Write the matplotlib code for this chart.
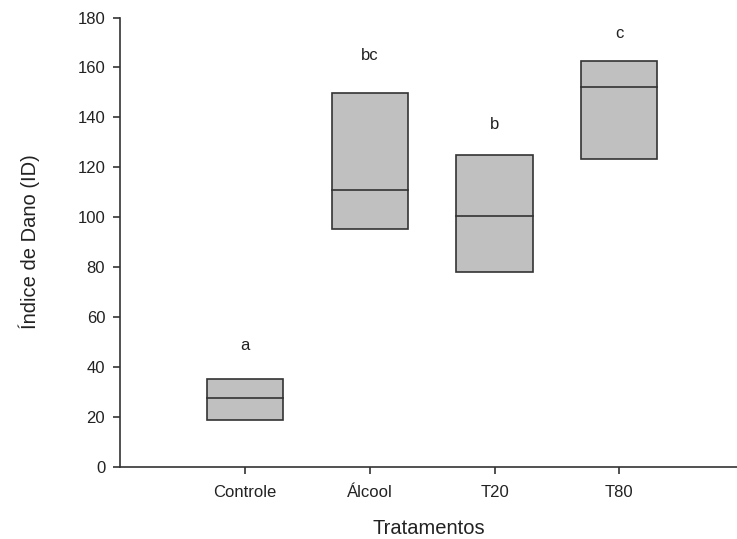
import matplotlib
matplotlib.use("Agg")
import matplotlib.pyplot as plt
import numpy as np

# values
tratamentos = ["Controle", "Álcool", "T20", "T80"]
q1 = [18.9, 95.1, 78.0, 123.2]
mediana = [27.6, 110.9, 100.4, 152.0]
q3 = [35.2, 149.9, 124.8, 162.7]
letras = ["a", "bc", "b", "c"]
letra_y = [48.7, 164.6, 137.0, 173.4]

plt.rcParams['font.family'] = ['Liberation Sans', 'DejaVu Sans']
cor_linha = "#333333"

fig = plt.figure(figsize=(7.37, 5.39), dpi=100)
ax = fig.add_axes([0.1635, 0.1341, 1.0 - 0.1635, 0.9675 - 0.1341])

pos = np.arange(1, len(tratamentos) + 1)
largura = 0.61
for x, lo, med, hi, let, ly in zip(pos, q1, mediana, q3, letras, letra_y):
    ax.add_patch(plt.Rectangle((x - largura / 2, lo), largura, hi - lo,
                               facecolor="#c0c0c0", edgecolor=cor_linha, lw=1.2))
    ax.plot([x - largura / 2, x + largura / 2], [med, med], color=cor_linha, lw=1.2)
    ax.text(x, ly, let, ha="center", va="center", fontsize=12, color="#222222")

ax.set_xlim(0, 4.945)
ax.set_ylim(0, 180)
ax.set_yticks(np.arange(0, 181, 20))
ax.set_xticks(pos)
ax.set_xticklabels(tratamentos)

for s in ["top", "right"]:
    ax.spines[s].set_visible(False)
for s in ["left", "bottom"]:
    ax.spines[s].set_color(cor_linha)
    ax.spines[s].set_linewidth(1.2)
ax.tick_params(axis="y", direction="out", length=5, width=1.2, color=cor_linha,
               labelsize=12, labelcolor="#222222", pad=6)
ax.tick_params(axis="x", direction="out", length=5, width=1.2, color=cor_linha,
               labelsize=12, labelcolor="#222222", pad=8)

ax.set_xlabel("Tratamentos", fontsize=14.5, color="#222222", labelpad=14)
ax.set_ylabel("Índice de Dano (ID)", fontsize=14.5, color="#222222", labelpad=27)

fig.savefig("out.png", dpi=100)
